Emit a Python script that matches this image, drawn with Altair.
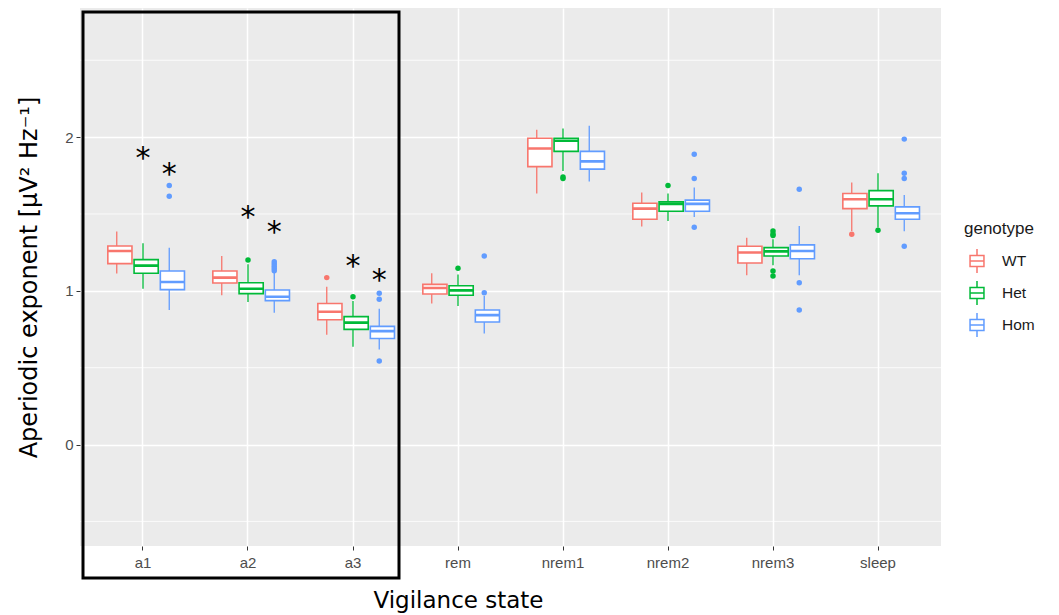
import altair as alt
import pandas as pd

states = ["a1", "a2", "a3", "rem", "nrem1", "nrem2", "nrem3", "sleep"]
genotypes = ["WT", "Het", "Hom"]
colors = ["#F8766D", "#00BA38", "#619CFF"]

# box statistics, ordered state by state, WT / Het / Hom
whisker_low = [1.112, 1.014, 0.875, 0.971, 0.927, 0.858, 0.714, 0.636, 0.619,
               0.918, 0.901, 0.723, 1.633, 1.780, 1.711, 1.418, 1.455, 1.481,
               1.101, 1.166, 1.101, 1.390, 1.412, 1.388]
q1 = [1.177, 1.114, 1.008, 1.051, 0.982, 0.936, 0.812, 0.749, 0.690,
      0.979, 0.971, 0.797, 1.808, 1.907, 1.792, 1.466, 1.518, 1.518,
      1.181, 1.227, 1.209, 1.535, 1.553, 1.466]
median = [1.259, 1.164, 1.057, 1.086, 1.014, 0.962, 0.864, 0.793, 0.738,
          1.018, 1.003, 0.842, 1.926, 1.976, 1.842, 1.535, 1.566, 1.566,
          1.249, 1.257, 1.259, 1.596, 1.596, 1.505]
q3 = [1.292, 1.203, 1.129, 1.129, 1.053, 1.005, 0.918, 0.832, 0.769,
      1.042, 1.033, 0.875, 1.993, 1.993, 1.907, 1.570, 1.579, 1.590,
      1.290, 1.281, 1.299, 1.633, 1.652, 1.546]
whisker_high = [1.386, 1.309, 1.281, 1.227, 1.173, 1.118, 1.027, 0.934, 0.884,
                1.114, 1.107, 0.966, 2.048, 2.056, 2.074, 1.640, 1.633, 1.672,
                1.346, 1.336, 1.422, 1.705, 1.765, 1.624]

# outliers
out_state = ["a1", "a1", "a2", "a2", "a2", "a2", "a2", "a2",
             "a3", "a3", "a3", "a3", "a3", "rem", "rem", "rem",
             "nrem1", "nrem1", "nrem2", "nrem2", "nrem2", "nrem2",
             "nrem3", "nrem3", "nrem3", "nrem3", "nrem3", "nrem3", "nrem3", "nrem3",
             "sleep", "sleep", "sleep", "sleep", "sleep", "sleep"]
out_geno = ["Hom", "Hom", "Het", "Hom", "Hom", "Hom", "Hom", "Hom",
            "WT", "Het", "Hom", "Hom", "Hom", "Het", "Hom", "Hom",
            "Het", "Het", "Het", "Hom", "Hom", "Hom",
            "Het", "Het", "Het", "Het", "Het", "Hom", "Hom", "Hom",
            "WT", "Het", "Hom", "Hom", "Hom", "Hom"]
out_value = [1.685, 1.616, 1.201, 1.190, 1.175, 1.160, 1.145, 1.130,
             1.086, 0.962, 0.984, 0.945, 0.543, 1.147, 1.227, 0.988,
             1.740, 1.730, 1.685, 1.889, 1.731, 1.414,
             1.390, 1.370, 1.360, 1.129, 1.097, 1.661, 1.053, 0.875,
             1.368, 1.394, 1.987, 1.765, 1.731, 1.290]

# significance asterisks
star_state = ["a1", "a1", "a2", "a2", "a3", "a3"]
star_geno = ["Het", "Hom", "Het", "Hom", "Het", "Hom"]
star_y = [1.91, 1.806, 1.524, 1.427, 1.209, 1.118]

minor_breaks = [-0.5, 0.5, 1.5, 2.5]

box_df = pd.DataFrame({
    "state": [s for s in states for _ in genotypes],
    "genotype": genotypes * len(states),
    "lo": whisker_low, "q1": q1, "med": median, "q3": q3, "hi": whisker_high,
})
out_df = pd.DataFrame({"state": out_state, "genotype": out_geno, "gp": out_geno, "value": out_value})
star_df = pd.DataFrame({"state": star_state, "genotype": star_geno, "y": star_y, "t": ["*"] * 6})
minor_df = pd.DataFrame({"v": minor_breaks})

W, H = 861, 538
ydom = [-0.66, 2.84]

xenc = alt.X("state:N", sort=states,
             scale=alt.Scale(type="band", domain=states, paddingInner=0, paddingOuter=0.1),
             axis=alt.Axis(title="Vigilance state", labelAngle=0, bandPosition=0.5,
                           grid=True, gridColor="white", gridWidth=1.5,
                           titleX=378, titlePadding=19, labelPadding=5))
xoff = alt.XOffset("genotype:N", sort=genotypes,
                   scale=alt.Scale(type="band", domain=genotypes, paddingInner=0, paddingOuter=0.5))
yscale = alt.Scale(domain=ydom, nice=False, zero=False)
yaxis = alt.Axis(title="Aperiodic exponent [μV² Hz⁻¹]", values=[0, 1, 2], format="d",
                 grid=True, gridColor="white", gridWidth=1.5, titlePadding=23,
                 titleFontSize=24, labelPadding=3)
cscale = alt.Scale(domain=genotypes, range=colors)

glyph = "M-0.58,-0.46H0.58V0.46H-0.58Z M-0.58,0H0.58 M0,-0.46V-1 M0,0.46V1"
legend = alt.Legend(title="genotype", orient="none", legendX=884, legendY=213,
                    symbolType=glyph, symbolSize=576, symbolFillColor="white",
                    symbolStrokeWidth=1.5, symbolOpacity=1, titleFontSize=17,
                    titleFont="Liberation Sans", titleFontWeight="normal",
                    titleColor="#1a1a1a", labelFontSize=15.5,
                    labelFont="Liberation Sans", labelColor="#1a1a1a",
                    titlePadding=10, rowPadding=2, labelOffset=12)
cenc = alt.Color("genotype:N", scale=cscale, legend=None)

minor = alt.Chart(minor_df).mark_rule(color="white", strokeWidth=0.8).encode(
    y=alt.Y("v:Q", scale=yscale, axis=yaxis))

whisk = alt.Chart(box_df).mark_rule(strokeWidth=1.3).encode(
    x=xenc, xOffset=xoff,
    y=alt.Y("lo:Q", scale=yscale, axis=yaxis), y2="hi:Q",
    color=cenc)

box = alt.Chart(box_df).mark_bar(width={"band": 0.92}, filled=False, fill="white",
                                 strokeWidth=1.6, opacity=1).encode(
    x=xenc, xOffset=xoff,
    y=alt.Y("q1:Q", scale=yscale, axis=yaxis), y2="q3:Q",
    color=alt.Color("genotype:N", scale=cscale, legend=legend))

med = alt.Chart(box_df).mark_bar(width={"band": 0.92}, filled=False, strokeWidth=2.6,
                                 opacity=1).encode(
    x=xenc, xOffset=xoff,
    y=alt.Y("med:Q", scale=yscale, axis=yaxis), y2="med:Q",
    color=cenc)

pts = alt.Chart(out_df).mark_circle(size=30, opacity=1).encode(
    x=xenc, xOffset=xoff,
    y=alt.Y("value:Q", scale=yscale, axis=yaxis),
    fill=alt.Fill("gp:N", scale=cscale, legend=None))

stars = alt.Chart(star_df).mark_text(fontSize=30, font="DejaVu Sans", color="black",
                                     baseline="alphabetic", dy=17).encode(
    x=xenc, xOffset=xoff,
    y=alt.Y("y:Q", scale=yscale, axis=yaxis),
    text="t:N")

frame = alt.Chart(alt.Data(values=[{}])).mark_rect(
    fillOpacity=0, stroke="black", strokeWidth=3, clip=False).encode(
    x=alt.value(3), x2=alt.value(319), y=alt.value(4), y2=alt.value(570))

chart = alt.layer(minor, whisk, box, med, pts, stars, frame).resolve_legend(
    color="independent", fill="independent"
).properties(
    width=W, height=H,
    autosize=alt.AutoSizeParams(type="none"),
    padding={"left": 72, "top": 0, "right": 110, "bottom": 68},
).configure_view(fill="#EBEBEB", strokeWidth=0).configure_axis(
    domain=False, tickColor="#333333", tickSize=4, labelColor="#4D4D4D",
    labelFontSize=15, labelFont="Liberation Sans",
    titleFont="DejaVu Sans", titleFontSize=23, titleFontWeight="normal", titleColor="black",
)

chart.save("out.html", embed_options={"renderer": "svg", "actions": False})
